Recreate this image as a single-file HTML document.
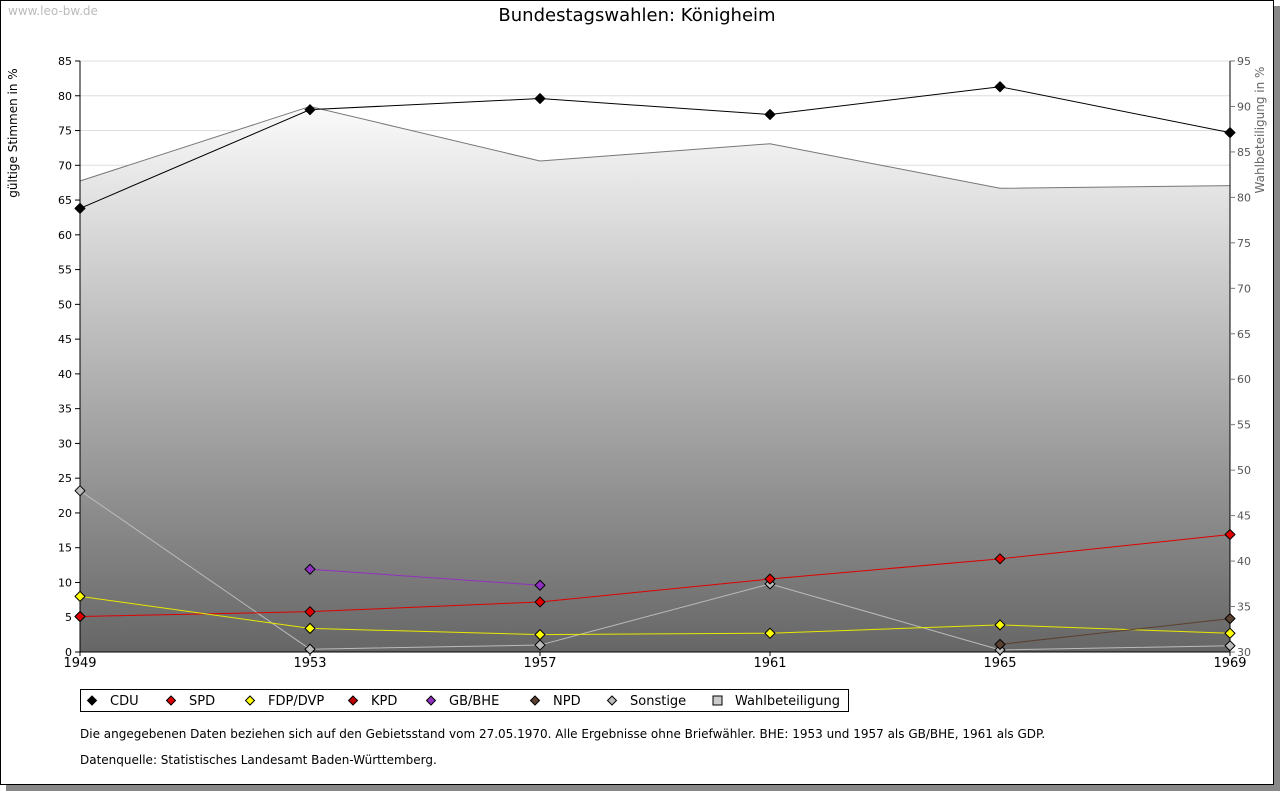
<!DOCTYPE html>
<html><head><meta charset="utf-8"><style>
body{margin:0;background:#fff;font-family:"DejaVu Sans",sans-serif;}
#wrap{position:relative;width:1280px;height:791px;}
</style></head><body>
<div id="wrap">
<svg id="svg" width="1280" height="791" xmlns="http://www.w3.org/2000/svg" font-family="DejaVu Sans, sans-serif">
<defs>
<linearGradient id="ga" gradientUnits="userSpaceOnUse" x1="0" y1="90" x2="0" y2="652">
<stop offset="0" stop-color="#ffffff"/><stop offset="1" stop-color="#666666"/>
</linearGradient>
</defs>
<rect x="6" y="6" width="1274" height="785" fill="#888"/>
<rect x="0.5" y="0.5" width="1273" height="784" fill="#fff" stroke="#000"/>
<text x="8" y="15" font-size="12" fill="#bbb">www.leo-bw.de</text>
<text x="637" y="21" font-size="18" text-anchor="middle">Bundestagswahlen: Königheim</text>
<g id="plot"></g>
<g id="legend"></g>
<text x="80" y="738" font-size="12">Die angegebenen Daten beziehen sich auf den Gebietsstand vom 27.05.1970. Alle Ergebnisse ohne Briefwähler. BHE: 1953 und 1957 als GB/BHE, 1961 als GDP.</text>
<text x="80" y="764" font-size="12">Datenquelle: Statistisches Landesamt Baden-Württemberg.</text>
</svg>
</div>
<script>
const years=[1949,1953,1957,1961,1965,1969];
const turnout=[81.8,90.0,84.0,85.9,81.0,81.3];
const cdu=[63.8,78.0,79.6,77.3,81.3,74.7];
const spd=[5.1,5.8,7.2,10.5,13.4,16.9];
const fdp=[8.0,3.4,2.5,2.7,3.9,2.7];
const kpd=[5.1,null,null,null,null,null];
const bhe=[null,11.9,9.6,null,null,null];
const npd=[null,null,null,null,1.1,4.8];
const sonst=[23.2,0.4,1.0,9.8,0.3,0.9];
const leftTicks=[0,5,10,15,20,25,30,35,40,45,50,55,60,65,70,75,80,85];
const rightTicks=[30,35,40,45,50,55,60,65,70,75,80,85,90,95];
const NS="http://www.w3.org/2000/svg";
const X0=80,X1=1230,Y0=652,Y1=61;
const xs=y=>X0+(y-1949)/(1969-1949)*(X1-X0);
const yl=v=>Y0-v/85*(Y0-Y1);
const yr=v=>Y0-(v-30)/65*(Y0-Y1);
const plot=document.getElementById('plot');
function el(t,a,p){const e=document.createElementNS(NS,t);for(const k in a)e.setAttribute(k,a[k]);(p||plot).appendChild(e);return e;}
function diamond(x,y,r){return `M${x},${y-r} L${x+r},${y} L${x},${y+r} L${x-r},${y} Z`;}
leftTicks.forEach(t=>{const g=el('line',{x1:X0,x2:X1,y1:yl(t),y2:yl(t),stroke:'#ddd'});

});
let d='M'+xs(years[0])+','+Y0;
years.forEach((y,i)=>d+=' L'+xs(y)+','+yr(turnout[i]));
d+=' L'+xs(years[years.length-1])+','+Y0+' Z';
const ar=el('path',{d:d,fill:'url(#ga)'});


const al=el('polyline',{points:years.map((y,i)=>xs(y)+','+yr(turnout[i])).join(' '),fill:'none',stroke:'#777'});


const ax=el('path',{d:`M${X0},${Y1} L${X0},${Y0} L${X1},${Y0} M${X1},${Y1} L${X1},${Y0}`,stroke:'#000',fill:'none'});


leftTicks.forEach(t=>{el('line',{x1:X0-5,x2:X0,y1:yl(t),y2:yl(t),stroke:'#000'});
const tx=el('text',{x:X0-8,y:yl(t)+4,'font-size':11,'text-anchor':'end'});tx.textContent=t;

});
rightTicks.forEach(t=>{el('line',{x1:X1,x2:X1+5,y1:yr(t),y2:yr(t),stroke:'#777'});
const tx=el('text',{x:X1+7,y:yr(t)+4,'font-size':11,fill:'#555'});tx.textContent=t;

});
years.forEach(y=>{el('line',{x1:xs(y),x2:xs(y),y1:Y0,y2:Y0+4,stroke:'#000'});
const tx=el('text',{x:xs(y),y:Y0+15,'font-size':13,'text-anchor':'middle'});tx.textContent=y;

});
const yt=el('text',{x:17,y:133,'font-size':12,'text-anchor':'middle',transform:'rotate(-90 17 133)'});yt.textContent='gültige Stimmen in %';


const yt2=el('text',{x:1264,y:130,'font-size':12,fill:'#666','text-anchor':'middle',transform:'rotate(-90 1264 130)'});yt2.textContent='Wahlbeteiligung in %';


const series=[['cdu',cdu,'#000','#000'],['sonstige',sonst,'#bbb','#bbb'],['kpd',kpd,'#8b0000','#c00000'],['spd',spd,'#e00000','#e00000'],['fdp',fdp,'#e8e800','#ffff00'],['gb-bhe',bhe,'#9030c0','#9030c0'],['npd',npd,'#5a4030','#5a4030']];
series.forEach(([n,vals,lc,fc])=>{
 const pts=[];vals.forEach((v,i)=>{if(v!==null)pts.push(xs(years[i])+','+yl(v));});
 const l=el('polyline',{points:pts.join(' '),fill:'none',stroke:lc,'stroke-width':1});
 
 
 vals.forEach((v,i)=>{if(v===null)return;
  const m=el('path',{d:diamond(xs(years[i]),yl(v),5),fill:fc,stroke:'#000','stroke-width':1,'stroke-linejoin':'round'});
  
  });
});
const lg=document.getElementById('legend');
el('rect',{x:80.5,y:689.5,width:768,height:22,fill:'#fff',stroke:'#000'},lg);
const items=[['CDU','#000',92],['SPD','#e00000',171],['FDP/DVP','#ffff00',250],['KPD','#c00000',353],['GB/BHE','#9030c0',431],['NPD','#5a4030',535],['Sonstige','#bbb',612],['Wahlbeteiligung','#ccc',717]];
items.forEach(([t,c,x],i)=>{
 let m;
 if(i===7){m=el('rect',{x:x-4,y:696,width:9,height:9,fill:c,stroke:'#000'},lg);}
 else m=el('path',{d:diamond(x,700.5,4.5),fill:c,stroke:'#000'},lg);
 
 
 const tx=el('text',{x:x+18,y:705,'font-size':13},lg);tx.textContent=t;
 
 
});
</script>
</body></html>
